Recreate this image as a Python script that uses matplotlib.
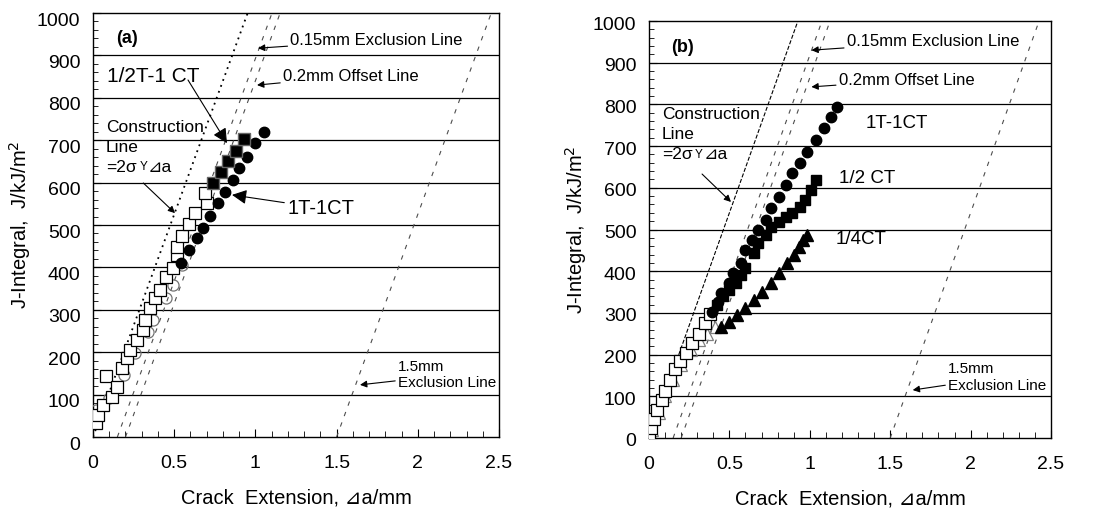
import matplotlib
matplotlib.use("Agg")
import matplotlib.pyplot as plt
from matplotlib.ticker import MultipleLocator
from matplotlib.transforms import ScaledTranslation
import numpy as np

plt.rcParams['font.family'] = ['Liberation Sans', 'DejaVu Sans']
plt.rcParams['mathtext.fontset'] = 'dejavusans'

# ---- panel (a) data: crack extension (mm), J (kJ/m2) ----
a_1t_fill_da = [0.54, 0.59, 0.64, 0.68, 0.72, 0.77, 0.81, 0.86, 0.90, 0.95, 1.00, 1.05]
a_1t_fill_j = [410, 441, 469, 493, 521, 552, 578, 606, 634, 660, 693, 719]
a_1t_open_da = [-0.01, 0.02, 0.10, 0.19, 0.26, 0.34, 0.37, 0.45, 0.49, 0.55]
a_1t_open_j = [50, 64, 92, 146, 198, 248, 276, 328, 358, 406]

a_half_fill_da = [0.74, 0.79, 0.83, 0.88, 0.93]
a_half_fill_j = [599, 625, 651, 675, 703]
a_half_open_da = [0.02, 0.03, 0.06, 0.08, 0.12, 0.15, 0.18, 0.21, 0.23, 0.27, 0.31, 0.32,
                  0.35, 0.38, 0.41, 0.45, 0.49, 0.52, 0.52, 0.55, 0.59, 0.63, 0.70, 0.69]
a_half_open_j = [33, 52, 75, 145, 94, 118, 163, 186, 205, 229, 252, 276,
                 304, 328, 347, 377, 399, 429, 448, 474, 502, 528, 552, 575]

# ---- panel (b) data ----
b_1t_da = [0.39, 0.43, 0.45, 0.50, 0.52, 0.57, 0.60, 0.64, 0.68, 0.73, 0.76, 0.81,
           0.85, 0.89, 0.94, 0.98, 1.04, 1.09, 1.13, 1.17]
b_1t_j = [302, 326, 348, 372, 396, 420, 451, 475, 499, 523, 552, 578,
          607, 635, 659, 686, 715, 743, 770, 794]
b_half_da = [0.42, 0.46, 0.50, 0.54, 0.57, 0.60, 0.65, 0.68, 0.73, 0.76, 0.81,
             0.85, 0.89, 0.94, 0.97, 1.01, 1.04]
b_half_j = [318, 340, 355, 372, 391, 408, 443, 468, 487, 506, 518,
            530, 540, 554, 571, 595, 619]
b_qtr_da = [0.45, 0.50, 0.55, 0.60, 0.65, 0.70, 0.76, 0.81, 0.86, 0.90, 0.93, 0.96, 0.98]
b_qtr_j = [266, 278, 295, 312, 331, 350, 372, 396, 420, 440, 458, 475, 487]
b_low_da = [0.0, 0.01, 0.03, 0.05, 0.08, 0.10, 0.13, 0.16, 0.19, 0.23, 0.27, 0.31, 0.35, 0.38]
b_low_j = [10, 25, 45, 68, 92, 112, 140, 165, 185, 205, 228, 250, 275, 298]
b_lowtri_da = [0.0, 0.02, 0.06, 0.10, 0.15, 0.20, 0.26, 0.31, 0.36, 0.41]
b_lowtri_j = [0, 20, 60, 100, 140, 175, 210, 235, 250, 265]

# blunting / exclusion lines: J = slope * (da - offset)
slope_a = 1050
slope_b = 1080
offsets = [0.15, 0.2, 1.5]

fig = plt.figure(figsize=(10.99, 5.08), dpi=100)
ax_a = fig.add_axes([93 / 1099, 71 / 508, 406 / 1099, 424 / 508])
ax_b = fig.add_axes([649 / 1099, 70 / 508, 402 / 1099, 417 / 508])


def style_axes(ax, shift_px):
    ax.set_xlim(0, 2.5)
    ax.set_ylim(0, 1000)
    ax.set_xticks([0, 0.5, 1, 1.5, 2, 2.5])
    ax.set_xticklabels(['0', '0.5', '1', '1.5', '2', '2.5'])
    ax.set_yticks(range(0, 1001, 100))
    ax.xaxis.set_minor_locator(MultipleLocator(0.1))
    ax.yaxis.set_minor_locator(MultipleLocator(20))
    ax.tick_params(which='both', direction='in', top=False, right=False, labelsize=14)
    ax.tick_params(axis='y', which='major', length=6, pad=9)
    ax.tick_params(axis='y', which='minor', length=3.5)
    ax.tick_params(axis='x', which='major', length=6, pad=13)
    ax.tick_params(axis='x', which='minor', length=4)
    for s in ax.spines.values():
        s.set_linewidth(1.0)
    for yv in range(100, 1000, 100):
        ax.axhline(yv, color='k', lw=0.9, zorder=1)
    ax.set_xlabel('Crack  Extension, ⊿a/mm', fontsize=14.5, labelpad=12)
    ax.set_ylabel('J-Integral,  J/kJ/m$^2$', fontsize=14.5, labelpad=3)
    off = ScaledTranslation(0, -shift_px / 100, fig.dpi_scale_trans)
    for lab in ax.get_yticklabels():
        lab.set_transform(lab.get_transform() + off)


def draw_lines(ax, slope, construction_style):
    xs = np.array([0.0, 1100 / slope])
    ax.plot(xs, slope * xs, color='k', lw=1.3 if construction_style != '--' else 0.8,
            ls=construction_style, zorder=2)
    for off in offsets:
        xo = np.array([off, off + 1000 / slope])
        ax.plot(xo, slope * (xo - off), color='0.3', lw=0.8, ls=(0, (4, 6)), zorder=2)


def note(ax, text, xy, xytext, fs=12, head=10, lw=0.8):
    ax.annotate(text, xy=xy, xytext=xytext, fontsize=fs, ha='left', va='center',
                arrowprops=dict(arrowstyle='-|>', color='k', lw=lw, mutation_scale=head,
                                shrinkA=0, shrinkB=0), zorder=5)


def construction_label(ax, x, y_top):
    # three lines: "Construction", "Line", "=2σ Y⊿a" with a small Y
    ax.text(x, y_top, 'Construction', fontsize=12.5, va='center')
    ax.text(x, y_top - 48, 'Line', fontsize=12.5, va='center')
    t1 = ax.text(x, y_top - 96, '=2σ', fontsize=12.5, va='center')
    t2 = ax.annotate(' Y', xy=(1, 0.12), xycoords=t1, fontsize=8.5, va='bottom')
    ax.annotate('⊿a', xy=(1, -0.12), xycoords=t2, fontsize=12.5, va='bottom')


# ---------------- (a) ----------------
style_axes(ax_a, 6)
draw_lines(ax_a, slope_a, (0, (1, 2.5)))
ax_a.plot(a_1t_open_da, a_1t_open_j, 'o', ms=8, mfc='none', mec='0.45', mew=0.9, zorder=3)
ax_a.plot(a_half_open_da, a_half_open_j, 's', ms=8.5, mfc='white', mec='k', mew=0.9, zorder=3)
ax_a.plot(a_1t_fill_da, a_1t_fill_j, 'o', ms=7.5, color='k', zorder=4)
ax_a.plot(a_half_fill_da, a_half_fill_j, 's', ms=8, mfc='k', mec='0.4', mew=1, zorder=4)

ax_a.text(0.14, 941, '(a)', fontsize=13, fontweight='bold', va='center')
ax_a.text(0.086, 851, '1/2T-1 CT', fontsize=15, va='center')
ax_a.annotate('', xy=(0.825, 693), xytext=(0.585, 842),
              arrowprops=dict(arrowstyle='-|>', color='k', lw=0.8, mutation_scale=22,
                              shrinkA=0, shrinkB=0))
note(ax_a, '0.15mm Exclusion Line', (1.016, 917), (1.215, 936))
note(ax_a, '0.2mm Offset Line', (1.01, 830), (1.17, 851))
construction_label(ax_a, 0.08, 731)
ax_a.annotate('', xy=(0.505, 528), xytext=(0.31, 599),
              arrowprops=dict(arrowstyle='-|>', color='k', lw=0.8, mutation_scale=10,
                              shrinkA=0, shrinkB=0))
note(ax_a, '1T-1CT', (0.856, 571), (1.195, 540), fs=14.5, head=22)
note(ax_a, '1.5mm\nExclusion Line', (1.644, 123), (1.878, 146), fs=11)

# ---------------- (b) ----------------
style_axes(ax_b, 2)
draw_lines(ax_b, slope_b, '--')
ax_b.plot(b_lowtri_da, b_lowtri_j, '^', ms=8, mfc='none', mec='0.5', mew=0.9, zorder=3)
ax_b.plot(b_low_da, b_low_j, 's', ms=8.5, mfc='white', mec='k', mew=0.9, zorder=3)
ax_b.plot(b_qtr_da, b_qtr_j, '^', ms=8, color='k', zorder=4)
ax_b.plot(b_half_da, b_half_j, 's', ms=7.5, color='k', zorder=4)
ax_b.plot(b_1t_da, b_1t_j, 'o', ms=7.5, color='k', zorder=4)

ax_b.text(0.14, 937, '(b)', fontsize=13, fontweight='bold', va='center')
note(ax_b, '0.15mm Exclusion Line', (1.01, 930), (1.23, 950))
note(ax_b, '0.2mm Offset Line', (1.01, 842), (1.18, 858))
construction_label(ax_b, 0.08, 775)
ax_b.annotate('', xy=(0.51, 566), xytext=(0.33, 633),
              arrowprops=dict(arrowstyle='-|>', color='k', lw=0.8, mutation_scale=10,
                              shrinkA=0, shrinkB=0))
ax_b.text(1.35, 755, '1T-1CT', fontsize=13.5, va='center')
ax_b.text(1.18, 623, '1/2 CT', fontsize=13.5, va='center')
ax_b.text(1.16, 475, '1/4CT', fontsize=13.5, va='center')
note(ax_b, '1.5mm\nExclusion Line', (1.64, 115), (1.86, 145), fs=11)

fig.savefig('out.png', dpi=100)
